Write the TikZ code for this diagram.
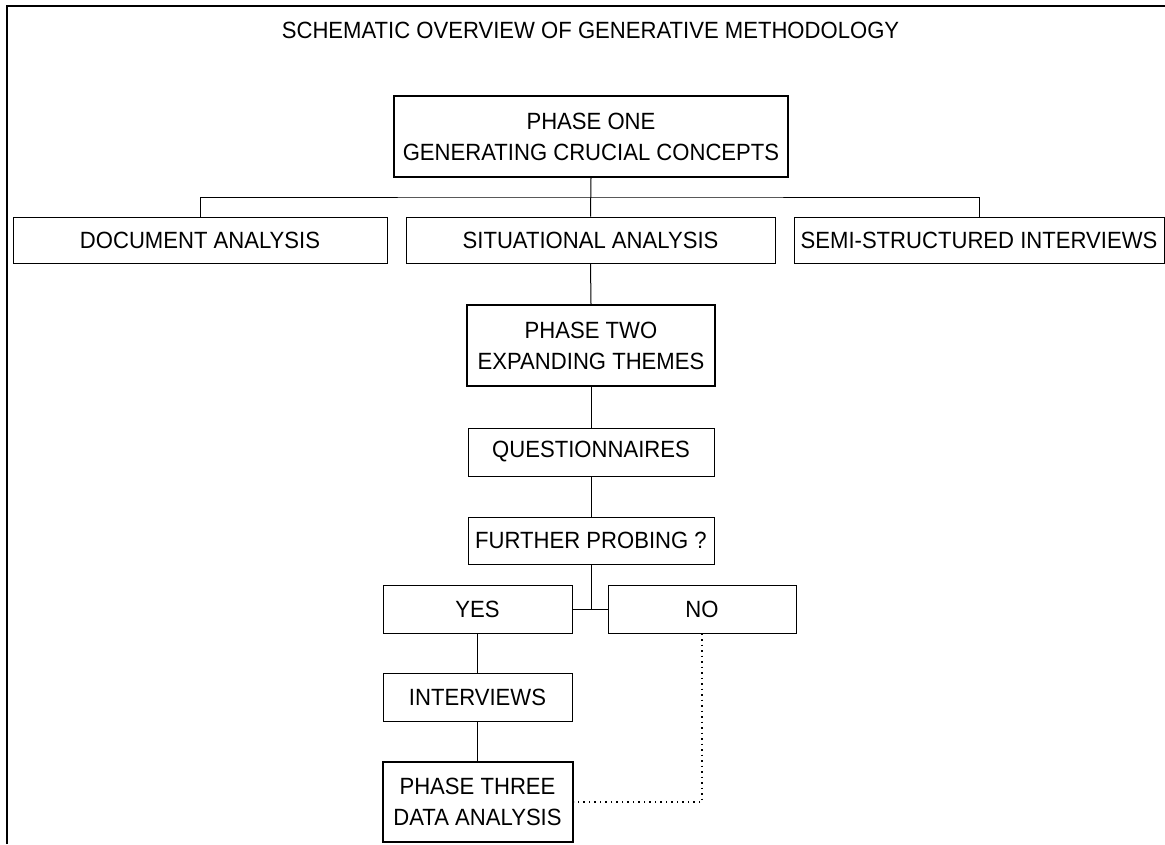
\documentclass[tikz,border=0pt]{standalone}
\usepackage{fontspec}
\setmainfont[FakeStretch=0.94]{Liberation Sans}
\begin{document}
\begin{tikzpicture}[x=1pt,y=-1pt]

      \tikzstyle{MethodBlock} = [
      rectangle,
      draw=black,
      line width=1pt,
      fill=white,
      inner sep=0pt,
      align=center,
      font=\fontsize{23.5}{31}\selectfont
      ]
      \tikzstyle{PhaseBlock} = [
      MethodBlock,
      line width=2pt
      ]

      \useasboundingbox (0,0) rectangle (1165,844);
      \draw [line width=2pt] (7,844) -- (7,6) -- (1165,6);

      \node (Title) [font=\fontsize{23.5}{31}\selectfont] at (590.5,30)
        {SCHEMATIC OVERVIEW OF GENERATIVE METHODOLOGY};

      \node (PhaseOne) [PhaseBlock, minimum width=394pt, minimum height=81pt]
      at (591,136.5) {PHASE ONE\\GENERATING CRUCIAL CONCEPTS};

      \node (DocAnalysis) [MethodBlock, minimum width=374pt, minimum height=46pt]
      at (200,240) {DOCUMENT ANALYSIS};
      \node (SitAnalysis) [MethodBlock, minimum width=369pt, minimum height=46pt]
      at (590.5,240) {SITUATIONAL ANALYSIS};
      \node (SemiInterviews) [MethodBlock, minimum width=370pt, minimum height=46pt]
      at (979,240.5) {SEMI-STRUCTURED INTERVIEWS};

      \node (PhaseTwo) [PhaseBlock, minimum width=248pt, minimum height=81pt]
      at (591,345.5) {PHASE TWO\\EXPANDING THEMES};

      \node (Questionnaires) [MethodBlock, minimum width=246pt, minimum height=48pt]
      at (591,452) {QUESTIONNAIRES};
      \node (FurtherProbing) [MethodBlock, minimum width=246pt, minimum height=47pt]
      at (591,540.5) {FURTHER PROBING ?};

      \node (Yes) [MethodBlock, minimum width=189pt, minimum height=48pt]
      at (477.5,609) {YES};
      \node (No) [MethodBlock, minimum width=188pt, minimum height=48pt]
      at (702,609) {NO};

      \node (Interviews) [MethodBlock, minimum width=189pt, minimum height=48pt]
      at (477.5,697) {INTERVIEWS};
      \node (PhaseThree) [PhaseBlock, minimum width=190pt, minimum height=80pt]
      at (477.5,802) {PHASE THREE\\DATA ANALYSIS};

      \coordinate (Split) at (591,197);

      \draw [line width=1pt] (PhaseOne.south) -- (SitAnalysis.north);
      \draw [line width=1pt] (DocAnalysis.north) |- (Split) -| (SemiInterviews.north);
      \draw [line width=1pt] (SitAnalysis.south) -- (PhaseTwo.north);
      \draw [line width=1pt] (PhaseTwo.south) -- (Questionnaires.north);
      \draw [line width=1pt] (Questionnaires.south) -- (FurtherProbing.north);
      \draw [line width=1pt] (FurtherProbing.south) -- (FurtherProbing.south |- Yes.east);
      \draw [line width=1pt] (Yes.east) -- (No.west);
      \draw [line width=1pt] (Yes.south) -- (Interviews.north);
      \draw [line width=1pt] (Interviews.south) -- (PhaseThree.north);
      \draw [line width=1.5pt, dash pattern=on 1.5pt off 4pt] (No.south) |- (PhaseThree.east);

    \end{tikzpicture}
\end{document}
